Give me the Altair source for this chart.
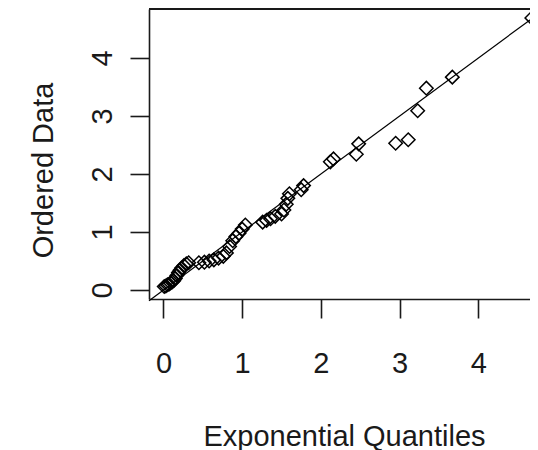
import altair as alt
import pandas as pd

# Exponential quantiles (x) and ordered data (y)
exp_quantiles = [0.01, 0.03, 0.05, 0.07, 0.09, 0.11, 0.13, 0.15, 0.17, 0.19,
                 0.21, 0.23, 0.26, 0.29, 0.32, 0.45, 0.52, 0.58, 0.64, 0.70,
                 0.76, 0.80, 0.84, 0.88, 0.92, 0.96, 1.00, 1.04, 1.26, 1.31,
                 1.36, 1.42, 1.50, 1.53, 1.56, 1.58, 1.60, 1.75, 1.78, 2.12,
                 2.16, 2.45, 2.48, 2.95, 3.11, 3.23, 3.34, 3.67, 4.68]
ordered_data = [0.06, 0.07, 0.09, 0.10, 0.12, 0.14, 0.16, 0.20, 0.25, 0.30,
                0.34, 0.38, 0.42, 0.45, 0.47, 0.47, 0.48, 0.50, 0.52, 0.55,
                0.58, 0.64, 0.75, 0.85, 0.92, 0.98, 1.05, 1.12, 1.17, 1.20,
                1.23, 1.27, 1.31, 1.38, 1.48, 1.58, 1.66, 1.73, 1.80, 2.21,
                2.26, 2.34, 2.52, 2.53, 2.59, 3.09, 3.48, 3.67, 4.69]

# Reference line (intercept, slope)
line_intercept = 0.0
line_slope = 1.0

x_ticks = [0, 1, 2, 3, 4]
y_ticks = [0, 1, 2, 3, 4]
x_domain = [-0.184, 4.657]
y_domain = [-0.155, 4.845]

pts = pd.DataFrame({"x": exp_quantiles, "y": ordered_data})
line_df = pd.DataFrame({"x": [x_domain[0], 4.9],
                        "y": [line_intercept + line_slope * v for v in [x_domain[0], 4.9]]})

W, H = 381, 290
FONT = "Liberation Sans"
INK = "#1a1a1a"

x_scale = alt.Scale(domain=x_domain, nice=False, zero=False)
y_scale = alt.Scale(domain=y_domain, nice=False, zero=False)

x_axis = alt.Axis(values=x_ticks, format="d", grid=False,
                  title="Exponential Quantiles",
                  domainColor=INK, domainWidth=1.6,
                  tickColor=INK, tickWidth=1.6, tickSize=19,
                  labelFont=FONT, labelFontSize=29, labelColor=INK,
                  labelPadding=54.7, labelBaseline="alphabetic",
                  labelFlush=False, labelOverlap=False,
                  titleFont=FONT, titleFontSize=29, titleFontWeight="normal",
                  titleColor=INK, titleX=195, titleY=146,
                  titleBaseline="alphabetic", titleAlign="center")
y_axis = alt.Axis(values=y_ticks, format="d", grid=False,
                  title="Ordered Data",
                  domainColor=INK, domainWidth=1.6,
                  tickColor=INK, tickWidth=1.6, tickSize=19,
                  labelFont=FONT, labelFontSize=29, labelColor=INK,
                  labelAngle=270, labelAlign="center",
                  labelBaseline="alphabetic", labelPadding=18.5,
                  labelFlush=False, labelOverlap=False,
                  titleFont=FONT, titleFontSize=29, titleFontWeight="normal",
                  titleColor=INK, titleAngle=270, titleX=-97, titleY=161,
                  titleBaseline="alphabetic", titleAlign="center")

line = alt.Chart(line_df).mark_line(color="black", strokeWidth=1.2, clip=False).encode(
    x=alt.X("x:Q", scale=x_scale, axis=x_axis),
    y=alt.Y("y:Q", scale=y_scale, axis=y_axis),
)

points = alt.Chart(pts).mark_point(shape="diamond", filled=False, size=182,
                                   color="black", strokeWidth=1.5, opacity=1).encode(
    x=alt.X("x:Q", scale=x_scale),
    y=alt.Y("y:Q", scale=y_scale),
)

top = alt.Chart(pts).mark_rule(color=INK, strokeWidth=1.6).encode(
    x=alt.value(0), x2=alt.value(W), y=alt.value(0)
)

chart = alt.layer(line, points, top).properties(
    width=W, height=H,
    padding={"left": 141, "top": 1, "right": 0, "bottom": 151},
    autosize=alt.AutoSizeParams(type="none"),
).configure_view(strokeWidth=0)

chart.save("out.html", embed_options={"renderer": "svg", "actions": False})
